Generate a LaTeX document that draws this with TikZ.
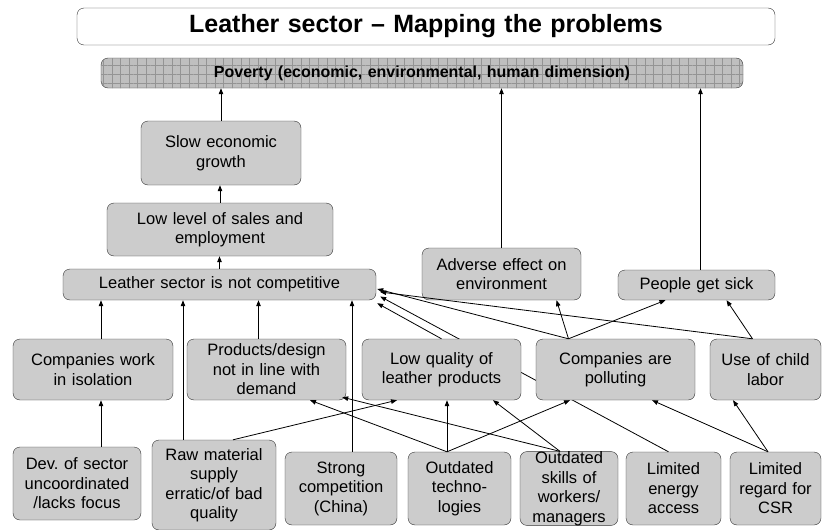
\documentclass[tikz,border=0pt]{standalone}
\usepackage{fontspec}
\setmainfont{Liberation Sans}
\usetikzlibrary{arrows.meta,patterns.meta,backgrounds}
\frenchspacing

\definecolor{boxgray}{gray}{0.80}
\definecolor{povgray}{gray}{0.75}
\definecolor{gridgray}{gray}{0.58}

\tikzset{
  box/.style 2 args={draw=black!80, fill=boxgray, rounded corners=7pt, align=center,
    inner sep=0pt, text width=#1pt, minimum height=#2pt,
    font=\fontsize{16.5}{19.5}\selectfont},
  arr/.style={-{Triangle[length=6pt,width=4.5pt]}, line width=0.8pt}
}

\begin{document}
\begin{tikzpicture}[x=1pt,y=-1pt]
  \useasboundingbox (0,0) rectangle (828,530);

  %% title and top
  \node[box={698}{37}, fill=white, font=\fontsize{25}{30}\selectfont\bfseries] (title) at (426,26.5)
    {Leather sector -- Mapping the problems};
  \node[box={642}{30}, fill=povgray, font=\fontsize{16}{19}\selectfont\bfseries,
    postaction={pattern={Hatch[distance=8.6pt,line width=0.5pt]}, pattern color=gridgray}] (pov) at (422,73)
    {Poverty (economic, environmental, human dimension)};

  %% effects
  \node[box={160}{64}] (slow) at (221,153) {Slow economic\\growth};
  \node[box={226}{53}] (lowlev) at (220,229.5) {Low level of sales and\\employment};
  \node[box={313}{31}] (nc) at (219.5,284.5) {Leather sector is not competitive};
  \node[box={159}{52}] (adverse) at (501.5,274) {Adverse effect on\\environment};
  \node[box={157}{30}] (people) at (696.5,285) {People get sick};

  %% problems
  \node[box={160}{61}] (iso) at (93,369.5) {Companies work\\in isolation};
  \node[box={159}{61}] (prod) at (266.5,369.5) {Products/design\\not in line with\\demand};
  \node[box={159}{61}] (lowq) at (441.5,369.5) {Low quality of\\leather products};
  \node[box={159}{61}] (poll) at (615.5,369.5) {Companies are\\polluting};
  \node[box={111}{61}] (child) at (765.5,369.5) {Use of child\\labor};

  %% causes
  \node[box={128}{73}] (dev) at (77,483.5) {Dev. of sector\\uncoordinated\\/lacks focus};
  \node[box={124}{90}] (raw) at (214,485) {Raw material\\supply\\erratic/of bad\\quality};
  \node[box={112}{73}] (strong) at (341,488.5) {Strong\\competition\\(China)};
  \node[box={103}{73}] (otech) at (459.5,488.5) {Outdated\\techno-\\logies};
  \node[box={98}{73}] (oskills) at (569,488.5) {Outdated\\skills of\\workers/\\managers};
  \node[box={95}{73}] (energy) at (673.5,488.5) {Limited\\energy\\access};
  \node[box={91}{73}] (csr) at (775.5,488.5) {Limited\\regard for\\CSR};

  %% arrows to poverty
  \draw[arr] (slow.north) -- (slow.north |- pov.south);
  \draw[arr] (adverse.north) -- (adverse.north |- pov.south);
  \draw[arr] ([xshift=4pt]people.north) -- ([xshift=4pt]people.north |- pov.south);
  \draw[arr] (lowlev.north) -- (lowlev.north |- slow.south);
  \draw[arr] (nc.north) -- (nc.north |- lowlev.south);

  %% arrows to not competitive
  \draw[arr] ([xshift=8pt]iso.north) -- ([xshift=8pt]iso.north |- nc.south);
  \draw[arr] ([xshift=-31pt]raw.north) -- ([xshift=-31pt]raw.north |- nc.south);
  \draw[arr] ([xshift=-8pt]prod.north) -- ([xshift=-8pt]prod.north |- nc.south);
  \draw[arr] ([xshift=11pt]strong.north) -- ([xshift=11pt]strong.north |- nc.south);
  \draw[arr] (lowq.north) -- ([xshift=1pt,yshift=-3pt]nc.south east);
  \draw[arr] ([xshift=-47pt]poll.north) -- ([xshift=1pt,yshift=-4.5pt]nc.east);
  \draw[arr] ([xshift=-13pt]child.north) -- ([xshift=4pt,yshift=-7.5pt]nc.east);
  \begin{scope}[on background layer]
    \draw[arr] ([xshift=-5pt]energy.north) -- ([xshift=4pt,yshift=-12pt]nc.east);
  \end{scope}

  %% arrows to adverse effect and sick
  \draw[arr] ([xshift=-47pt]poll.north) -- ([xshift=55pt]adverse.south);
  \draw[arr] ([xshift=-47pt]poll.north) -- ([xshift=-31pt]people.south);
  \draw[arr] ([xshift=-13pt]child.north) -- ([xshift=30pt]people.south);

  %% arrows from causes
  \draw[arr] ([xshift=24pt]dev.north) -- ([xshift=24pt]dev.north |- iso.south);
  \draw[arr] ([xshift=19pt]raw.north) -- ([xshift=-44.5pt]lowq.south);
  \draw[arr] ([xshift=-12.5pt]otech.north) -- ([xshift=43.5pt]prod.south);
  \draw[arr] ([xshift=-12.5pt]otech.north) -- ([xshift=-12.5pt]otech.north |- lowq.south);
  \draw[arr] ([xshift=-12.5pt]otech.north) -- ([xshift=-45.5pt]poll.south);
  \draw[arr] ([xshift=-9pt]oskills.north) -- ([xshift=-4pt,yshift=3pt]prod.south east);
  \draw[arr] ([xshift=-9pt]oskills.north) -- ([xshift=51.5pt]lowq.south);
  \draw[arr] ([xshift=-7.5pt]csr.north) -- ([xshift=36.5pt]poll.south);
  \draw[arr] ([xshift=-7.5pt]csr.north) -- ([xshift=-32.5pt]child.south);
\end{tikzpicture}
\end{document}
